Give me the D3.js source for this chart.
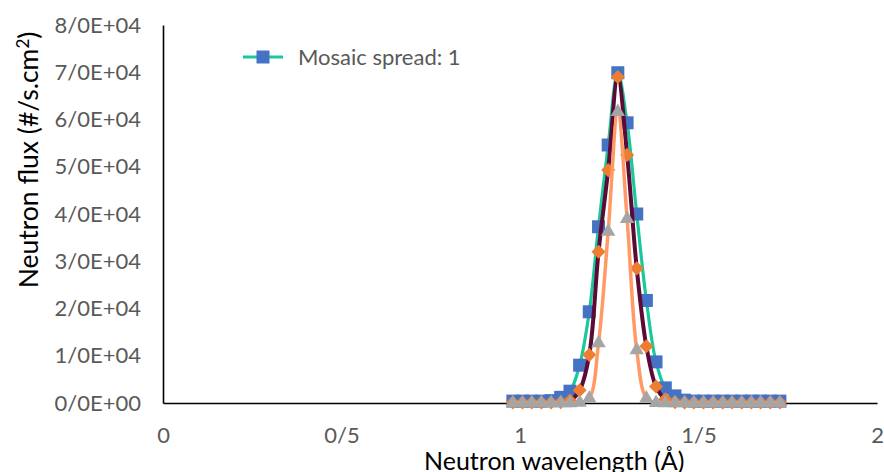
<!DOCTYPE html>
<html><head><meta charset="utf-8">
<script src="https://cdn.jsdelivr.net/npm/d3@7"></script>
<style>html,body{margin:0;padding:0;background:#fff;}svg{display:block;}</style>
</head><body>
<script>
// ---- data ----
const wavelength = [0.980, 1.007, 1.033, 1.060, 1.087, 1.114, 1.140, 1.167, 1.194, 1.220,
  1.247, 1.274, 1.300, 1.327, 1.354, 1.381, 1.407, 1.434, 1.461, 1.487,
  1.514, 1.541, 1.568, 1.594, 1.621, 1.648, 1.674, 1.701, 1.728];
const fluxSpread1 = [400, 400, 400, 400, 500, 1200, 2500, 8000, 19300, 37300,
  54600, 69900, 59300, 40000, 21700, 8700, 3200, 1500, 600, 400,
  400, 400, 400, 400, 400, 400, 400, 400, 400];
const fluxSeries2 = [100, 100, 100, 100, 100, 150, 500, 2700, 10200, 32000,
  49300, 69000, 52500, 28500, 12000, 3500, 800, 200, 100, 100,
  100, 100, 100, 100, 100, 100, 100, 100, 100];
const fluxSeries3 = [0, 0, 0, 0, 0, 0, 0, 100, 1000, 12700,
  36300, 61600, 39000, 11200, 1000, 50, 0, 0, 0, 0,
  0, 0, 0, 0, 0, 0, 0, 0, 0];
const xTickValues = [0, 0.5, 1, 1.5, 2];
const xTickLabels = ["0", "0/5", "1", "1/5", "2"];
const yTickValues = [0, 10000, 20000, 30000, 40000, 50000, 60000, 70000, 80000];
const yTickLabels = ["0/0E+00", "1/0E+04", "2/0E+04", "3/0E+04", "4/0E+04", "5/0E+04", "6/0E+04", "7/0E+04", "8/0E+04"];
const legendLabel = "Mosaic spread: 1";

// ---- chart ----
const W = 884, H = 472;
const FONT = "Lato, 'Open Sans', sans-serif";
const svg = d3.select("body").append("svg").attr("width", W).attr("height", H)
  .style("font-family", FONT);

const x = d3.scaleLinear().domain([0, 2]).range([163, 877]);
const y = d3.scaleLinear().domain([0, 80000]).range([403, 25]);

// axes
const xAxis = d3.axisBottom(x).tickValues(xTickValues)
  .tickFormat((d, i) => xTickLabels[i]).tickSize(0).tickPadding(24);
const gx = svg.append("g").attr("transform", `translate(0,${y(0)})`).call(xAxis);
gx.select(".domain").attr("stroke", "#000").attr("stroke-width", 1.6);
gx.selectAll("text").attr("fill", "#595959").style("font-size", "22px").style("font-family", FONT);

const yAxis = d3.axisLeft(y).tickValues(yTickValues)
  .tickFormat((d, i) => yTickLabels[i]).tickSize(0).tickPadding(22);
const gy = svg.append("g").attr("transform", `translate(${x(0)},0)`).call(yAxis);
gy.select(".domain").attr("stroke", "#000").attr("stroke-width", 1.6);
gy.selectAll("text").attr("fill", "#595959").style("font-size", "22px").style("font-family", FONT);

// axis titles
svg.append("text").attr("x", 424).attr("y", 470).attr("text-anchor", "start")
  .attr("fill", "#000").style("font-size", "25px").text("Neutron wavelength (Å)");
const yt = svg.append("text").attr("transform", "translate(38,160) rotate(-90)")
  .attr("text-anchor", "middle").attr("fill", "#000").style("font-size", "26.5px");
yt.append("tspan").text("Neutron flux (#/s.cm");
yt.append("tspan").attr("dy", -9).style("font-size", "17px").text("2");
yt.append("tspan").attr("dy", 9).text(")");

// series
const series = [
  { vals: fluxSpread1, line: "#19C99B", lw: 3.2, marker: "square", mcolor: "#4472C4" },
  { vals: fluxSeries2, line: "#5C0A36", lw: 4, marker: "diamond", mcolor: "#ED7D31" },
  { vals: fluxSeries3, line: "#FF9A66", lw: 3.5, marker: "triangle", mcolor: "#A5A5A5" }
];
const lineGen = d3.line().x(d => x(d[0])).y(d => y(d[1])).curve(d3.curveCatmullRom.alpha(0.5));
const symbols = {
  square: d3.symbol().type(d3.symbolSquare).size(13 * 13),
  diamond: d3.symbol().type(d3.symbolSquare).size(10 * 10),
  triangle: d3.symbol().type(d3.symbolTriangle).size(90)
};

series.forEach(s => {
  const pts = wavelength.map((w, i) => [w, s.vals[i]]);
  const g = svg.append("g");
  g.append("path").datum(pts).attr("d", lineGen).attr("fill", "none")
    .attr("stroke", s.line).attr("stroke-width", s.lw).attr("stroke-linejoin", "round");
  g.selectAll("path.m").data(pts).enter().append("path").attr("class", "m")
    .attr("d", symbols[s.marker]())
    .attr("transform", d => `translate(${x(d[0])},${y(d[1])})` + (s.marker === "diamond" ? " rotate(45)" : ""))
    .attr("fill", s.mcolor);
});

// legend
const lg = svg.append("g");
lg.append("line").attr("x1", 243).attr("x2", 283).attr("y1", 57).attr("y2", 57)
  .attr("stroke", series[0].line).attr("stroke-width", 3.2);
lg.append("path").attr("d", symbols.square()).attr("transform", "translate(263,57)").attr("fill", series[0].mcolor);
lg.append("text").attr("x", 298).attr("y", 65).attr("fill", "#595959").style("font-size", "22px").text(legendLabel);
</script>
</body></html>
